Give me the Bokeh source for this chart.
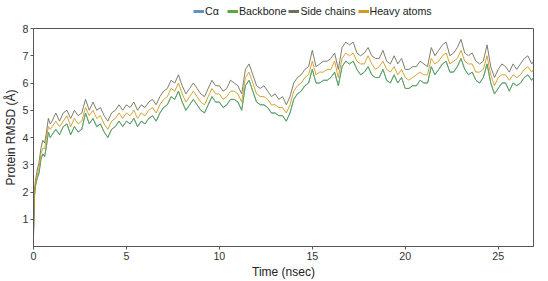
from bokeh.plotting import figure
from bokeh.layouts import column
from bokeh.models import Legend, LegendItem, FixedTicker, ColumnDataSource
from bokeh.embed import file_html
from bokeh.resources import INLINE

# time axis (nsec)
time_early = [0.0, 0.05, 0.1, 0.2, 0.3, 0.4, 0.5, 0.6, 0.7, 0.8, 0.9]
time_main = [round(1.0 + 0.2 * i, 2) for i in range(130)]
time_end = [26.9]
time_ns = time_early + time_main + time_end

side_chains = [
    0.6, 2.0, 2.4, 2.8, 3.1, 3.6, 3.9, 3.8, 4.2, 4.7, 4.5,
    4.6, 4.9, 4.6, 4.9, 5.0,
    4.7, 5.0, 4.8, 4.9, 5.4,
    5.0, 5.3, 5.0, 5.1, 4.8,
    4.6, 4.9, 5.0, 5.2, 5.0,
    5.2, 5.1, 5.3, 5.0, 5.2,
    5.1, 5.3, 5.4, 5.2, 5.5,
    5.7, 5.8, 6.1, 6.0, 6.3,
    5.9, 5.6, 5.8, 6.0, 5.8,
    5.6, 5.5, 5.8, 6.1, 5.9,
    5.9, 5.7, 5.8, 6.1, 6.0,
    5.9, 5.6, 6.5, 6.7, 6.3,
    5.9, 5.8, 5.9, 5.7, 5.5,
    5.6, 5.4, 5.5, 5.2, 5.5,
    6.0, 6.2, 6.3, 6.5, 6.6,
    7.2, 6.6, 6.7, 6.8, 6.8,
    6.9, 7.1, 6.5, 7.3, 7.5,
    7.4, 7.5, 7.1, 7.0, 7.1,
    7.3, 7.0, 6.9, 6.9, 7.2,
    6.8, 6.7, 7.0, 6.7, 6.9,
    6.5, 6.5, 6.6, 6.6, 6.8,
    6.7, 6.6, 7.3, 7.0, 7.2,
    7.4, 7.5, 7.0, 7.1, 7.3,
    7.6, 7.1, 7.0, 7.1, 6.8,
    6.7, 6.8, 7.4, 6.6, 6.2,
    6.5, 6.7, 6.6, 6.4, 6.7,
    6.5, 6.7, 6.9, 7.0, 6.7,
    6.8,
]

heavy_atoms = [
    0.5, 1.9, 2.3, 2.6, 2.9, 3.4, 3.6, 3.6, 4.0, 4.4, 4.3,
    4.4, 4.6, 4.4, 4.6, 4.8,
    4.4, 4.7, 4.5, 4.6, 5.1,
    4.8, 5.0, 4.7, 4.8, 4.5,
    4.3, 4.6, 4.7, 4.9, 4.7,
    4.9, 4.8, 5.0, 4.7, 4.9,
    4.8, 5.0, 5.1, 4.9, 5.2,
    5.4, 5.5, 5.8, 5.7, 6.0,
    5.6, 5.3, 5.5, 5.7, 5.5,
    5.3, 5.2, 5.5, 5.8, 5.6,
    5.6, 5.4, 5.5, 5.7, 5.7,
    5.6, 5.3, 6.2, 6.4, 6.0,
    5.6, 5.5, 5.5, 5.4, 5.2,
    5.2, 5.1, 5.1, 4.9, 5.2,
    5.7, 5.9, 6.0, 6.2, 6.3,
    6.8, 6.3, 6.4, 6.4, 6.5,
    6.5, 6.8, 6.2, 6.9, 7.1,
    7.0, 7.1, 6.8, 6.7, 6.7,
    7.0, 6.7, 6.5, 6.6, 6.8,
    6.5, 6.4, 6.6, 6.3, 6.5,
    6.2, 6.1, 6.2, 6.3, 6.4,
    6.3, 6.3, 6.9, 6.7, 6.8,
    7.0, 7.1, 6.7, 6.8, 6.9,
    7.2, 6.8, 6.7, 6.7, 6.4,
    6.4, 6.5, 7.0, 6.3, 5.9,
    6.2, 6.3, 6.3, 6.1, 6.3,
    6.2, 6.3, 6.5, 6.6, 6.4,
    6.5,
]

backbone = [
    0.4, 1.8, 2.2, 2.5, 2.7, 3.2, 3.4, 3.3, 3.7, 4.2, 4.0,
    4.1, 4.3, 4.1, 4.4, 4.5,
    4.1, 4.4, 4.2, 4.3, 4.9,
    4.5, 4.7, 4.4, 4.5, 4.2,
    4.0, 4.3, 4.4, 4.6, 4.4,
    4.6, 4.5, 4.7, 4.4, 4.6,
    4.5, 4.7, 4.8, 4.6, 4.9,
    5.1, 5.2, 5.5, 5.4, 5.7,
    5.3, 5.0, 5.2, 5.4, 5.2,
    5.0, 4.9, 5.2, 5.5, 5.3,
    5.3, 5.1, 5.2, 5.4, 5.4,
    5.3, 5.0, 5.9, 6.1, 5.7,
    5.3, 5.2, 5.2, 5.1, 4.9,
    4.9, 4.8, 4.8, 4.6, 4.9,
    5.4, 5.6, 5.7, 5.9, 6.0,
    6.5, 6.0, 6.0, 6.1, 6.1,
    6.2, 6.4, 5.9, 6.6, 6.8,
    6.7, 6.8, 6.5, 6.3, 6.4,
    6.6, 6.3, 6.2, 6.2, 6.5,
    6.1, 6.0, 6.3, 6.0, 6.2,
    5.8, 5.8, 5.9, 5.9, 6.1,
    6.0, 6.0, 6.6, 6.3, 6.5,
    6.7, 6.8, 6.4, 6.4, 6.6,
    6.9, 6.5, 6.3, 6.4, 6.1,
    6.0, 6.2, 6.7, 6.0, 5.6,
    5.8, 6.0, 6.0, 5.7, 6.0,
    5.9, 6.0, 6.2, 6.3, 6.1,
    6.2,
]

c_alpha = [
    0.4, 1.8, 2.2, 2.5, 2.7, 3.2, 3.4, 3.3, 3.7, 4.2, 4.0,
    4.1, 4.3, 4.1, 4.4, 4.5,
    4.1, 4.4, 4.2, 4.3, 4.9,
    4.5, 4.7, 4.4, 4.5, 4.2,
    4.0, 4.3, 4.4, 4.6, 4.4,
    4.6, 4.5, 4.7, 4.4, 4.6,
    4.5, 4.7, 4.8, 4.6, 4.9,
    5.1, 5.2, 5.5, 5.4, 5.7,
    5.3, 5.0, 5.2, 5.4, 5.2,
    5.0, 4.9, 5.2, 5.5, 5.3,
    5.3, 5.1, 5.2, 5.4, 5.4,
    5.3, 5.0, 5.9, 6.1, 5.7,
    5.3, 5.2, 5.2, 5.1, 4.9,
    4.9, 4.8, 4.8, 4.6, 4.9,
    5.4, 5.6, 5.7, 5.9, 6.0,
    6.5, 6.0, 6.0, 6.1, 6.1,
    6.2, 6.4, 5.9, 6.6, 6.8,
    6.7, 6.8, 6.5, 6.3, 6.4,
    6.6, 6.3, 6.2, 6.2, 6.5,
    6.1, 6.0, 6.3, 6.0, 6.2,
    5.8, 5.8, 5.9, 5.9, 6.1,
    6.0, 6.0, 6.6, 6.3, 6.5,
    6.7, 6.8, 6.4, 6.4, 6.6,
    6.9, 6.5, 6.3, 6.4, 6.1,
    6.0, 6.2, 6.7, 6.0, 5.6,
    5.8, 6.0, 6.0, 5.7, 6.0,
    5.9, 6.0, 6.2, 6.3, 6.1,
    6.2,
]

series_names = ["Cα", "Backbone", "Side chains", "Heavy atoms"]
series_colors = ["#5f93c4", "#5aa646", "#6f6f5e", "#d09a1c"]
x_ticks = [0, 5, 10, 15, 20, 25]
y_ticks = [1, 2, 3, 4, 5, 6, 7, 8]

FONT = "Liberation Sans"

p = figure(width=548, height=259, output_backend="svg", toolbar_location=None,
           x_range=(0, 26.9), y_range=(0, 8),
           min_border_left=32, min_border_right=15, min_border_top=6, min_border_bottom=29)

p.xgrid.visible = False
p.ygrid.visible = False
p.outline_line_color = "#555555"
p.outline_line_width = 1
p.background_fill_color = "white"
p.border_fill_color = "white"

for ax in (p.xaxis[0], p.yaxis[0]):
    ax.axis_line_color = "#555555"
    ax.major_tick_line_color = "#555555"
    ax.major_tick_in = 0
    ax.major_tick_out = 3
    ax.minor_tick_line_color = None
    ax.major_label_text_font = FONT
    ax.major_label_text_font_size = "8pt"
    ax.major_label_text_color = "#333333"
    ax.axis_label_text_font = FONT
    ax.axis_label_text_font_size = "9pt"
    ax.axis_label_text_font_style = "normal"
    ax.axis_label_text_color = "#222222"
    ax.major_label_standoff = 2
    ax.axis_label_standoff = 2

p.xaxis.ticker = FixedTicker(ticks=x_ticks)
p.yaxis.ticker = FixedTicker(ticks=y_ticks)
p.xaxis.axis_label = "Time (nsec)"
p.yaxis.axis_label = "Protein RMSD (Å)"

data = [c_alpha, backbone, side_chains, heavy_atoms]
for name, col, ys in zip(series_names, series_colors, data):
    src = ColumnDataSource(dict(t=time_ns, v=ys))
    p.line("t", "v", source=src, line_color=col, line_width=0.9)

# legend strip above the plot (its sample lines lie outside the visible range)
lg = figure(width=548, height=22, output_backend="svg", toolbar_location=None,
            x_range=(0, 1), y_range=(0, 1),
            min_border_left=0, min_border_right=0, min_border_top=0, min_border_bottom=0)
lg.axis.visible = False
lg.grid.visible = False
lg.outline_line_color = None
lg.background_fill_color = "white"
lg.border_fill_color = "white"

items = []
for name, col in zip(series_names, series_colors):
    r = lg.line(x=[-10, -9], y=[-10, -10], line_color=col, line_width=3)
    items.append(LegendItem(label=name, renderers=[r]))

legend = Legend(items=items, orientation="horizontal", location=(160, 5),
                label_text_font=FONT, label_text_font_size="8pt",
                label_text_color="#222222",
                glyph_width=11, glyph_height=8, spacing=2, padding=0,
                label_standoff=1, margin=0,
                background_fill_alpha=0, border_line_color=None)
lg.add_layout(legend, "center")

layout = column(lg, p, spacing=0)
open("out.html", "w").write(file_html(layout, INLINE))
